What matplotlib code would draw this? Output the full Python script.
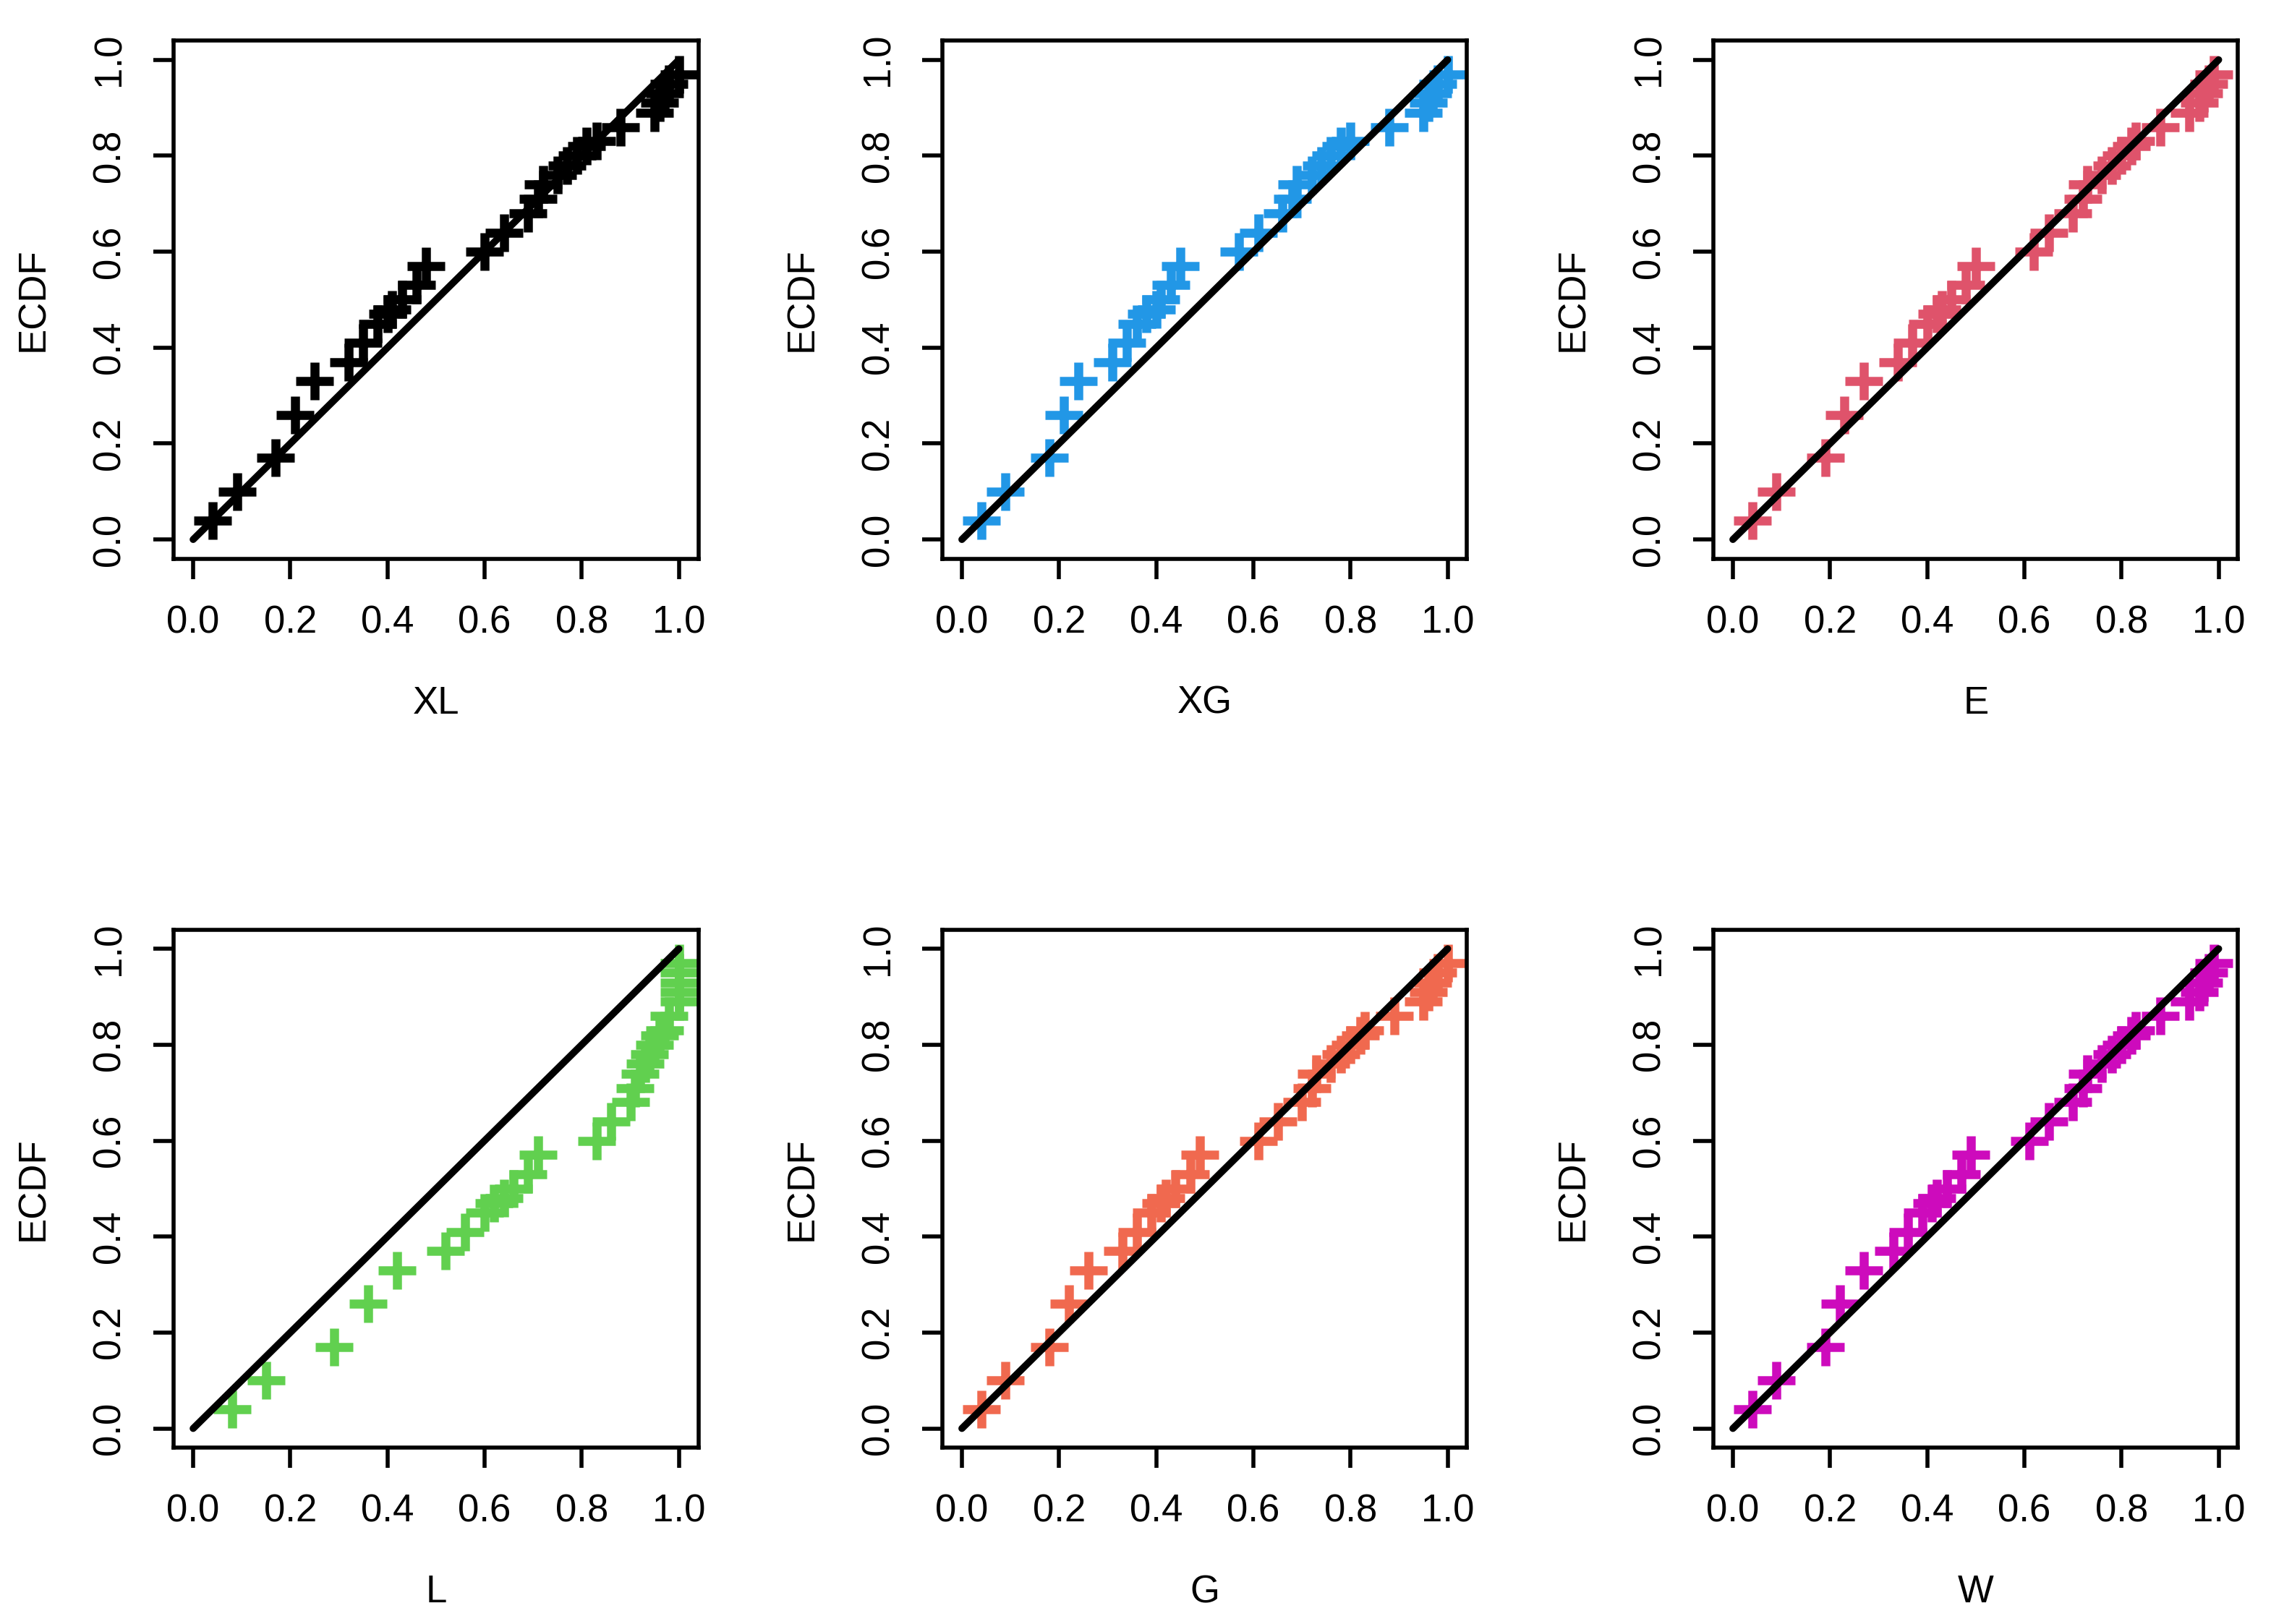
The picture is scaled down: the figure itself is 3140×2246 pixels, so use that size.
import matplotlib
matplotlib.use("Agg")
import matplotlib.pyplot as plt

ecdf = [0.04,0.10,0.17,0.26,0.33,0.37,0.41,0.45,0.47,0.48,0.50,0.53,0.57,0.60,0.64,0.68,0.71,0.74,0.76,0.78,0.80,0.82,0.83,0.86,0.89,0.91,0.93,0.95,0.97]
x_XL = [0.04,0.09,0.17,0.21,0.25,0.32,0.35,0.38,0.40,0.41,0.43,0.46,0.48,0.60,0.64,0.69,0.71,0.72,0.75,0.77,0.79,0.81,0.83,0.88,0.95,0.96,0.97,0.98,1.00]
x_XG = [0.04,0.09,0.18,0.21,0.24,0.31,0.34,0.36,0.38,0.40,0.41,0.43,0.45,0.57,0.61,0.66,0.68,0.69,0.72,0.74,0.76,0.78,0.80,0.88,0.95,0.96,0.97,0.98,1.00]
x_E  = [0.04,0.09,0.19,0.23,0.27,0.34,0.37,0.40,0.42,0.43,0.45,0.48,0.50,0.62,0.65,0.70,0.72,0.73,0.76,0.78,0.80,0.82,0.83,0.88,0.94,0.96,0.97,0.98,0.99]
x_L  = [0.08,0.15,0.29,0.36,0.42,0.52,0.56,0.60,0.62,0.64,0.66,0.69,0.71,0.83,0.86,0.90,0.91,0.92,0.93,0.94,0.95,0.96,0.97,0.98,1.00,1.00,1.00,1.00,1.00]
x_G  = [0.04,0.09,0.18,0.22,0.26,0.33,0.36,0.39,0.41,0.42,0.44,0.47,0.49,0.61,0.65,0.70,0.72,0.73,0.76,0.78,0.80,0.82,0.83,0.89,0.95,0.96,0.97,0.98,1.00]
x_W  = [0.04,0.09,0.19,0.22,0.27,0.33,0.36,0.39,0.41,0.42,0.44,0.47,0.49,0.61,0.65,0.70,0.72,0.73,0.76,0.78,0.80,0.82,0.83,0.88,0.94,0.96,0.97,0.98,0.99]

names = ["XL","XG","E","L","G","W"]
xs = [x_XL,x_XG,x_E,x_L,x_G,x_W]
colors = ["#000000","#2297E6","#DF536B","#61D04F","#F0694F","#CD0BBC"]
ticks = [0.0,0.2,0.4,0.6,0.8,1.0]
ticklabels = ["0.0","0.2","0.4","0.6","0.8","1.0"]

plt.rcParams['font.family'] = ['Liberation Sans','DejaVu Sans']
fig = plt.figure(figsize=(15.7,11.23), dpi=200)
lefts = [0.0765,0.415,0.7545]
bottoms = [0.656,0.1086]
for i,(n,x,c) in enumerate(zip(names,xs,colors)):
    ax = fig.add_axes([lefts[i%3], bottoms[i//3], 0.231, 0.319])
    ax.plot(x, ecdf, linestyle='none', marker='+', markersize=19, markeredgewidth=4.5, color=c)
    ax.plot([0,1],[0,1], color='black', lw=3.5, solid_capstyle='round')
    ax.set_xlim(-0.04,1.04); ax.set_ylim(-0.04,1.04)
    ax.set_xticks(ticks); ax.set_xticklabels(ticklabels)
    ax.set_yticks(ticks); ax.set_yticklabels(ticklabels, rotation=90, va='center')
    ax.tick_params(labelsize=19, length=10, width=2, pad=13)
    for s in ax.spines.values():
        s.set_linewidth(2)
    ax.set_xlabel(n, fontsize=19, labelpad=22)
    ax.set_ylabel("ECDF", fontsize=19, labelpad=20)
fig.savefig("out.png", dpi=200)
